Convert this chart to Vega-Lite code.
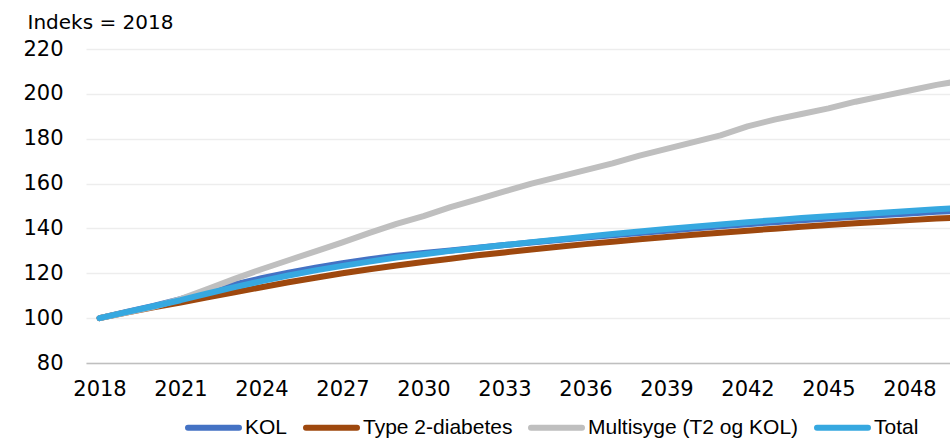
{
  "$schema": "https://vega.github.io/schema/vega-lite/v6.json",
  "width": 864,
  "height": 314,
  "autosize": "none",
  "padding": {"left": 86, "top": 49, "right": 0, "bottom": 75},
  "background": "white",
  "config": {
    "view": {"stroke": null},
    "font": "DejaVu Sans"
  },
  "data": {
    "values": [
      {"year": 2018, "series": "KOL", "value": 100},
      {"year": 2019, "series": "KOL", "value": 102.8},
      {"year": 2020, "series": "KOL", "value": 105.5},
      {"year": 2021, "series": "KOL", "value": 108.5},
      {"year": 2022, "series": "KOL", "value": 112},
      {"year": 2023, "series": "KOL", "value": 115},
      {"year": 2024, "series": "KOL", "value": 117.8},
      {"year": 2025, "series": "KOL", "value": 120.3},
      {"year": 2026, "series": "KOL", "value": 122.5},
      {"year": 2027, "series": "KOL", "value": 124.5},
      {"year": 2028, "series": "KOL", "value": 126.3},
      {"year": 2029, "series": "KOL", "value": 127.8},
      {"year": 2030, "series": "KOL", "value": 129},
      {"year": 2031, "series": "KOL", "value": 130.2},
      {"year": 2032, "series": "KOL", "value": 131.4},
      {"year": 2033, "series": "KOL", "value": 132.6},
      {"year": 2034, "series": "KOL", "value": 133.7},
      {"year": 2035, "series": "KOL", "value": 134.8},
      {"year": 2036, "series": "KOL", "value": 135.9},
      {"year": 2037, "series": "KOL", "value": 137},
      {"year": 2038, "series": "KOL", "value": 138},
      {"year": 2039, "series": "KOL", "value": 139},
      {"year": 2040, "series": "KOL", "value": 140},
      {"year": 2041, "series": "KOL", "value": 141},
      {"year": 2042, "series": "KOL", "value": 141.9},
      {"year": 2043, "series": "KOL", "value": 142.8},
      {"year": 2044, "series": "KOL", "value": 143.6},
      {"year": 2045, "series": "KOL", "value": 144.4},
      {"year": 2046, "series": "KOL", "value": 145.2},
      {"year": 2047, "series": "KOL", "value": 146},
      {"year": 2048, "series": "KOL", "value": 146.7},
      {"year": 2049, "series": "KOL", "value": 147.4},
      {"year": 2050, "series": "KOL", "value": 148},
      {"year": 2018, "series": "Type 2-diabetes", "value": 100},
      {"year": 2019, "series": "Type 2-diabetes", "value": 102.5},
      {"year": 2020, "series": "Type 2-diabetes", "value": 104.8},
      {"year": 2021, "series": "Type 2-diabetes", "value": 107},
      {"year": 2022, "series": "Type 2-diabetes", "value": 109.3},
      {"year": 2023, "series": "Type 2-diabetes", "value": 111.5},
      {"year": 2024, "series": "Type 2-diabetes", "value": 113.8},
      {"year": 2025, "series": "Type 2-diabetes", "value": 116},
      {"year": 2026, "series": "Type 2-diabetes", "value": 118},
      {"year": 2027, "series": "Type 2-diabetes", "value": 120},
      {"year": 2028, "series": "Type 2-diabetes", "value": 121.8},
      {"year": 2029, "series": "Type 2-diabetes", "value": 123.5},
      {"year": 2030, "series": "Type 2-diabetes", "value": 125},
      {"year": 2031, "series": "Type 2-diabetes", "value": 126.5},
      {"year": 2032, "series": "Type 2-diabetes", "value": 128},
      {"year": 2033, "series": "Type 2-diabetes", "value": 129.3},
      {"year": 2034, "series": "Type 2-diabetes", "value": 130.6},
      {"year": 2035, "series": "Type 2-diabetes", "value": 131.8},
      {"year": 2036, "series": "Type 2-diabetes", "value": 133},
      {"year": 2037, "series": "Type 2-diabetes", "value": 134.1},
      {"year": 2038, "series": "Type 2-diabetes", "value": 135.2},
      {"year": 2039, "series": "Type 2-diabetes", "value": 136.2},
      {"year": 2040, "series": "Type 2-diabetes", "value": 137.2},
      {"year": 2041, "series": "Type 2-diabetes", "value": 138.1},
      {"year": 2042, "series": "Type 2-diabetes", "value": 139},
      {"year": 2043, "series": "Type 2-diabetes", "value": 139.9},
      {"year": 2044, "series": "Type 2-diabetes", "value": 140.7},
      {"year": 2045, "series": "Type 2-diabetes", "value": 141.5},
      {"year": 2046, "series": "Type 2-diabetes", "value": 142.3},
      {"year": 2047, "series": "Type 2-diabetes", "value": 143},
      {"year": 2048, "series": "Type 2-diabetes", "value": 143.7},
      {"year": 2049, "series": "Type 2-diabetes", "value": 144.4},
      {"year": 2050, "series": "Type 2-diabetes", "value": 145},
      {"year": 2018, "series": "Multisyge (T2 og KOL)", "value": 100},
      {"year": 2019, "series": "Multisyge (T2 og KOL)", "value": 102.5},
      {"year": 2020, "series": "Multisyge (T2 og KOL)", "value": 105},
      {"year": 2021, "series": "Multisyge (T2 og KOL)", "value": 108.5},
      {"year": 2022, "series": "Multisyge (T2 og KOL)", "value": 113},
      {"year": 2023, "series": "Multisyge (T2 og KOL)", "value": 117.5},
      {"year": 2024, "series": "Multisyge (T2 og KOL)", "value": 121.8},
      {"year": 2025, "series": "Multisyge (T2 og KOL)", "value": 125.8},
      {"year": 2026, "series": "Multisyge (T2 og KOL)", "value": 129.8},
      {"year": 2027, "series": "Multisyge (T2 og KOL)", "value": 133.8},
      {"year": 2028, "series": "Multisyge (T2 og KOL)", "value": 138},
      {"year": 2029, "series": "Multisyge (T2 og KOL)", "value": 142},
      {"year": 2030, "series": "Multisyge (T2 og KOL)", "value": 145.5},
      {"year": 2031, "series": "Multisyge (T2 og KOL)", "value": 149.5},
      {"year": 2032, "series": "Multisyge (T2 og KOL)", "value": 153},
      {"year": 2033, "series": "Multisyge (T2 og KOL)", "value": 156.5},
      {"year": 2034, "series": "Multisyge (T2 og KOL)", "value": 160},
      {"year": 2035, "series": "Multisyge (T2 og KOL)", "value": 163},
      {"year": 2036, "series": "Multisyge (T2 og KOL)", "value": 166},
      {"year": 2037, "series": "Multisyge (T2 og KOL)", "value": 169},
      {"year": 2038, "series": "Multisyge (T2 og KOL)", "value": 172.5},
      {"year": 2039, "series": "Multisyge (T2 og KOL)", "value": 175.5},
      {"year": 2040, "series": "Multisyge (T2 og KOL)", "value": 178.5},
      {"year": 2041, "series": "Multisyge (T2 og KOL)", "value": 181.5},
      {"year": 2042, "series": "Multisyge (T2 og KOL)", "value": 185.5},
      {"year": 2043, "series": "Multisyge (T2 og KOL)", "value": 188.5},
      {"year": 2044, "series": "Multisyge (T2 og KOL)", "value": 191},
      {"year": 2045, "series": "Multisyge (T2 og KOL)", "value": 193.5},
      {"year": 2046, "series": "Multisyge (T2 og KOL)", "value": 196.5},
      {"year": 2047, "series": "Multisyge (T2 og KOL)", "value": 199},
      {"year": 2048, "series": "Multisyge (T2 og KOL)", "value": 201.5},
      {"year": 2049, "series": "Multisyge (T2 og KOL)", "value": 204},
      {"year": 2050, "series": "Multisyge (T2 og KOL)", "value": 206},
      {"year": 2018, "series": "Total", "value": 100},
      {"year": 2019, "series": "Total", "value": 102.7},
      {"year": 2020, "series": "Total", "value": 105.3},
      {"year": 2021, "series": "Total", "value": 108},
      {"year": 2022, "series": "Total", "value": 111},
      {"year": 2023, "series": "Total", "value": 113.8},
      {"year": 2024, "series": "Total", "value": 116.5},
      {"year": 2025, "series": "Total", "value": 119},
      {"year": 2026, "series": "Total", "value": 121.3},
      {"year": 2027, "series": "Total", "value": 123.3},
      {"year": 2028, "series": "Total", "value": 125.2},
      {"year": 2029, "series": "Total", "value": 127},
      {"year": 2030, "series": "Total", "value": 128.5},
      {"year": 2031, "series": "Total", "value": 130},
      {"year": 2032, "series": "Total", "value": 131.3},
      {"year": 2033, "series": "Total", "value": 132.6},
      {"year": 2034, "series": "Total", "value": 133.9},
      {"year": 2035, "series": "Total", "value": 135.1},
      {"year": 2036, "series": "Total", "value": 136.3},
      {"year": 2037, "series": "Total", "value": 137.5},
      {"year": 2038, "series": "Total", "value": 138.6},
      {"year": 2039, "series": "Total", "value": 139.7},
      {"year": 2040, "series": "Total", "value": 140.8},
      {"year": 2041, "series": "Total", "value": 141.8},
      {"year": 2042, "series": "Total", "value": 142.8},
      {"year": 2043, "series": "Total", "value": 143.7},
      {"year": 2044, "series": "Total", "value": 144.6},
      {"year": 2045, "series": "Total", "value": 145.4},
      {"year": 2046, "series": "Total", "value": 146.2},
      {"year": 2047, "series": "Total", "value": 147},
      {"year": 2048, "series": "Total", "value": 147.8},
      {"year": 2049, "series": "Total", "value": 148.5},
      {"year": 2050, "series": "Total", "value": 149.2}
    ]
  },
  "mark": {"type": "line", "strokeWidth": 6, "strokeCap": "round", "strokeJoin": "round", "clip": true},
  "encoding": {
    "x": {
      "field": "year",
      "type": "quantitative",
      "scale": {"domain": [2017.5, 2049.5], "nice": false, "zero": false},
      "axis": {
        "title": null,
        "values": [2018, 2021, 2024, 2027, 2030, 2033, 2036, 2039, 2042, 2045, 2048],
        "format": "d",
        "grid": false,
        "ticks": false,
        "domain": true,
        "domainColor": "#BFBFBF",
        "domainWidth": 1.5,
        "labelFontSize": 21,
        "labelColor": "#000000",
        "labelPadding": 15,
        "labelFlush": false
      }
    },
    "y": {
      "field": "value",
      "type": "quantitative",
      "scale": {"domain": [80, 220], "nice": false, "zero": false},
      "axis": {
        "title": "Indeks = 2018",
        "titleAngle": 0,
        "titleAlign": "left",
        "titleBaseline": "alphabetic",
        "titleX": -59,
        "titleY": -21,
        "titleFontSize": 20,
        "titleFontWeight": "normal",
        "titleColor": "#000000",
        "values": [80, 100, 120, 140, 160, 180, 200, 220],
        "grid": true,
        "gridColor": "#EDEDED",
        "gridWidth": 1.5,
        "ticks": false,
        "domain": false,
        "labelFontSize": 21,
        "labelColor": "#000000",
        "labelPadding": 23
      }
    },
    "color": {
      "field": "series",
      "type": "nominal",
      "sort": ["KOL", "Type 2-diabetes", "Multisyge (T2 og KOL)", "Total"],
      "scale": {
        "domain": ["KOL", "Type 2-diabetes", "Multisyge (T2 og KOL)", "Total"],
        "range": ["#4472C4", "#9E480E", "#BFBFBF", "#36A8E0"]
      },
      "legend": {
        "title": null,
        "orient": "none",
        "direction": "horizontal",
        "legendX": 99,
        "legendY": 350,
        "symbolType": "stroke",
        "symbolSize": 2600,
        "symbolStrokeWidth": 6,
        "labelFont": "Liberation Sans",
        "labelFontSize": 21,
        "labelColor": "#000000",
        "labelOffset": 3,
        "columnPadding": 6,
        "labelLimit": 400,
        "padding": 0,
        "encode": {"symbols": {"update": {"strokeCap": {"value": "round"}}}}
      }
    },
    "order": {"field": "year"}
  }
}
